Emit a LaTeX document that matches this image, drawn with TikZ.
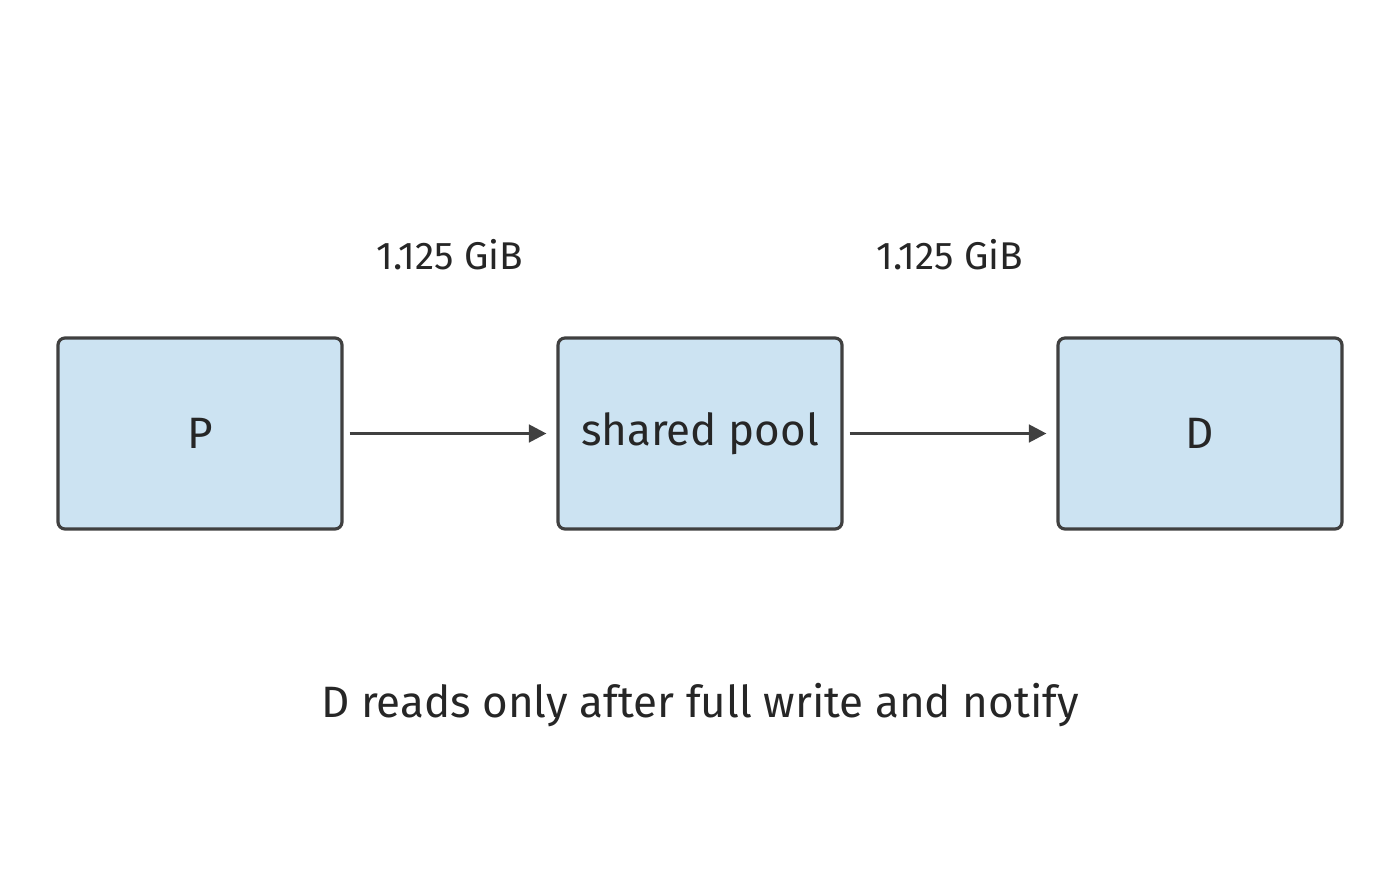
\documentclass[tikz,border=0pt]{standalone}
\usepackage{fontspec}
\setmainfont{Fira Sans}
\usetikzlibrary{positioning,arrows.meta}
\tikzset{
  block/.style={draw=black!75, line width=0.9pt, fill=blockblue, rounded corners=2pt,
    minimum width=2.84cm, minimum height=1.91cm, font=\fontsize{12.5}{15}\selectfont, text=black!85},
  flow/.style={draw=black!75, line width=0.9pt, -{Triangle[length=5pt,width=5pt]}},
  size/.style={font=\fontsize{11}{13}\selectfont, text=black!85}
}
\definecolor{blockblue}{HTML}{CCE3F2}
\begin{document}
\begin{tikzpicture}
  \useasboundingbox (0,0) rectangle (14,8.68);
  \node[block] (p) at (2.0, 4.345) {P};
  \node[block] (pool) at (7.0, 4.345) {shared pool};
  \node[block] (d) at (12.0, 4.345) {D};
  \draw[flow] ([xshift=0.06cm]p.east) -- ([xshift=-0.1cm]pool.west);
  \draw[flow] ([xshift=0.06cm]pool.east) -- ([xshift=-0.1cm]d.west);
  \node[size] (s1) at (4.5, 6.13) {1.125 GiB};
  \node[size] (s2) at (9.5, 6.13) {1.125 GiB};
  \node[font=\fontsize{12.5}{15}\selectfont, text=black!85] (note) at (7.0, 1.63) {D reads only after full write and notify};
\end{tikzpicture}
\end{document}
